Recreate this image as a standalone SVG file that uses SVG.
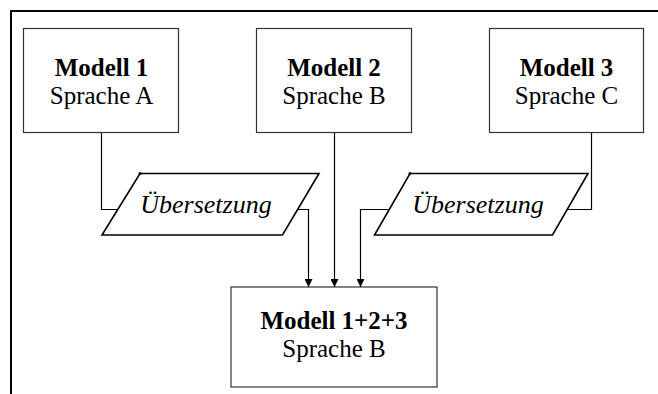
<svg xmlns="http://www.w3.org/2000/svg" width="658" height="394" viewBox="0 0 658 394">
<style>
.box{fill:#fff;stroke:#333;stroke-width:1.2}
.para{fill:#fff;stroke:#000;stroke-width:1.6;stroke-linejoin:miter}
.t{font-family:"Liberation Serif","Times New Roman",serif;font-size:25px;text-anchor:middle;fill:#000}
.b{font-weight:bold}
.i{font-style:italic;font-size:26px}
.c{fill:none;stroke:#000;stroke-width:1.2}
</style>
<defs>
<marker id="arr" viewBox="0 0 10 10" refX="10" refY="5" markerWidth="8" markerHeight="8" markerUnits="userSpaceOnUse" orient="auto">
<path d="M0,0 L10,5 L0,10 z" fill="#000"/>
</marker>
</defs>
<rect width="658" height="394" fill="#fff"/>
<path d="M11,394 V11 H658" fill="none" stroke="#000" stroke-width="2"/>
<g id="connectors">
<path class="c" d="M101.5,132 V209.5 H118"/>
<path class="c" d="M297.5,209.5 H308.5 V287" marker-end="url(#arr)"/>
<path class="c" d="M334.5,132 V287" marker-end="url(#arr)"/>
<path class="c" d="M591.5,132 V209.5 H567"/>
<path class="c" d="M388,209.5 H360.5 V287" marker-end="url(#arr)"/>
</g>
<g id="modell1">
<rect class="box" x="23.5" y="28.5" width="155" height="104"/>
<text class="t b" x="101.5" y="76">Modell 1</text>
<text class="t" x="101.5" y="104">Sprache A</text>
</g>
<g id="modell2">
<rect class="box" x="256.5" y="28.5" width="155" height="104"/>
<text class="t b" x="334" y="76">Modell 2</text>
<text class="t" x="334" y="104">Sprache B</text>
</g>
<g id="modell3">
<rect class="box" x="489.5" y="28.5" width="154" height="104"/>
<text class="t b" x="566.5" y="76">Modell 3</text>
<text class="t" x="566.5" y="104">Sprache C</text>
</g>
<g id="uebersetzung1">
<polygon class="para" points="140,173.5 319,173.5 282.5,235 102,235"/>
<circle cx="140" cy="173.5" r="1.5" fill="#000"/>
<text class="t i" x="206" y="213">Übersetzung</text>
</g>
<g id="uebersetzung2">
<polygon class="para" points="410,173.5 588,173.5 552.5,235 374.5,235"/>
<circle cx="410" cy="173.5" r="1.5" fill="#000"/>
<text class="t i" x="478" y="213">Übersetzung</text>
</g>
<g id="modell123">
<rect class="box" x="231" y="287" width="206" height="100"/>
<text class="t b" x="334" y="329">Modell 1+2+3</text>
<text class="t" x="334" y="357">Sprache B</text>
</g>
</svg>
